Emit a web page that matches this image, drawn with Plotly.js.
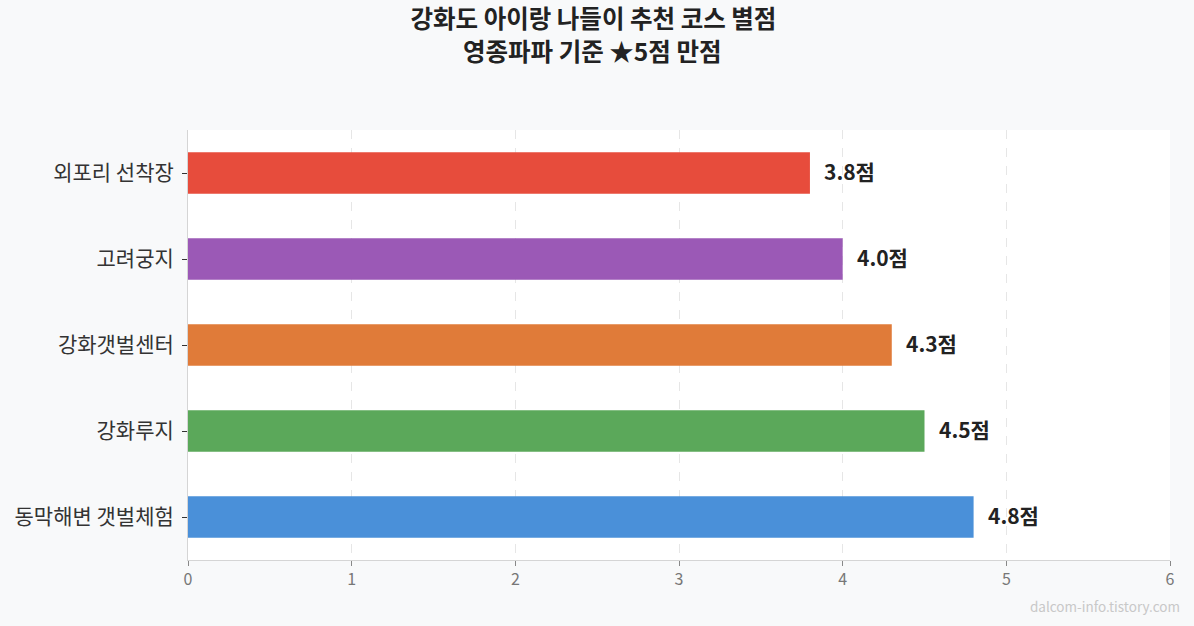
<!DOCTYPE html>
<html>
<head>
<meta charset="utf-8">
<script src="https://cdn.plot.ly/plotly-3.0.1.min.js"></script>
<style>html,body{margin:0;padding:0;background:#f8f9fa;}#chart{width:1194px;height:626px;}</style>
</head>
<body>
<div id="chart"></div>
<script>
const categories = ['외포리 선착장', '고려궁지', '강화갯벌센터', '강화루지', '동막해변 갯벌체험'];
const scores = [3.8, 4.0, 4.3, 4.5, 4.8];
const colors = ['#e74c3c', '#9b59b6', '#e07b39', '#5ba85a', '#4a90d9'];
const xTicks = [0, 1, 2, 3, 4, 5, 6];
const titleLines = ['강화도 아이랑 나들이 추천 코스 별점', '영종파파 기준 ★5점 만점'];
const FONT = '"Noto Sans CJK KR", "Noto Sans", sans-serif';

const trace = {
  type: 'bar',
  orientation: 'h',
  y: categories,
  x: scores,
  width: 0.48,
  marker: {color: colors, line: {width: 0}},
  hoverinfo: 'none'
};

const annotations = categories.map((c, i) => ({
  x: scores[i], y: c, xref: 'x', yref: 'y',
  text: scores[i].toFixed(1) + '점',
  showarrow: false, xanchor: 'left', yanchor: 'middle', xshift: 12, yshift: 2,
  font: {family: FONT, size: 21, color: '#222222', weight: 'bold'}
}));
annotations.push({
  x: 0.4124, y: 1.1849, xref: 'paper', yref: 'paper',
  xanchor: 'center', yanchor: 'middle', showarrow: false,
  text: '<b>' + titleLines[1] + '</b>',
  font: {family: FONT, size: 24.5, color: '#222222'}
});
annotations.push({
  x: 1, y: 0, xref: 'paper', yref: 'paper', yshift: -58, xshift: 12,
  xanchor: 'right', yanchor: 'bottom', showarrow: false,
  text: 'dalcom-info.tistory.com',
  font: {family: FONT, size: 13.5, color: '#c8c8c8'}
});

const layout = {
  width: 1194, height: 626,
  paper_bgcolor: '#f8f9fa', plot_bgcolor: '#ffffff',
  margin: {l: 188, r: 24, t: 130, b: 66},
  showlegend: false,
  title: {
    text: '<b>' + titleLines[0] + '</b>',
    x: 0.497, xanchor: 'center', yref: 'container', y: 0.9696, yanchor: 'middle',
    font: {family: FONT, size: 24.5, color: '#222222'}
  },
  xaxis: {
    range: [0, 6], tickvals: xTicks, ticktext: xTicks.map(String),
    showgrid: true, gridcolor: '#e6e6e6', griddash: 'dash', gridwidth: 1,
    zeroline: false, showline: true, linecolor: '#d5d5d5', linewidth: 1,
    ticks: 'outside', ticklen: 5, tickcolor: '#888888',
    tickfont: {family: FONT, size: 16, color: '#777777'}, fixedrange: true
  },
  yaxis: {
    categoryorder: 'array', categoryarray: categories, autorange: 'reversed',
    showgrid: false, zeroline: false, showline: true, linecolor: '#d5d5d5', linewidth: 1,
    ticks: 'outside', ticklen: 5, tickcolor: '#333333', ticklabelstandoff: 4,
    tickfont: {family: FONT, size: 21, color: '#333333'}, fixedrange: true
  },
  annotations: annotations
};

Plotly.newPlot('chart', [trace], layout, {displayModeBar: false, staticPlot: true});
</script>
</body>
</html>
